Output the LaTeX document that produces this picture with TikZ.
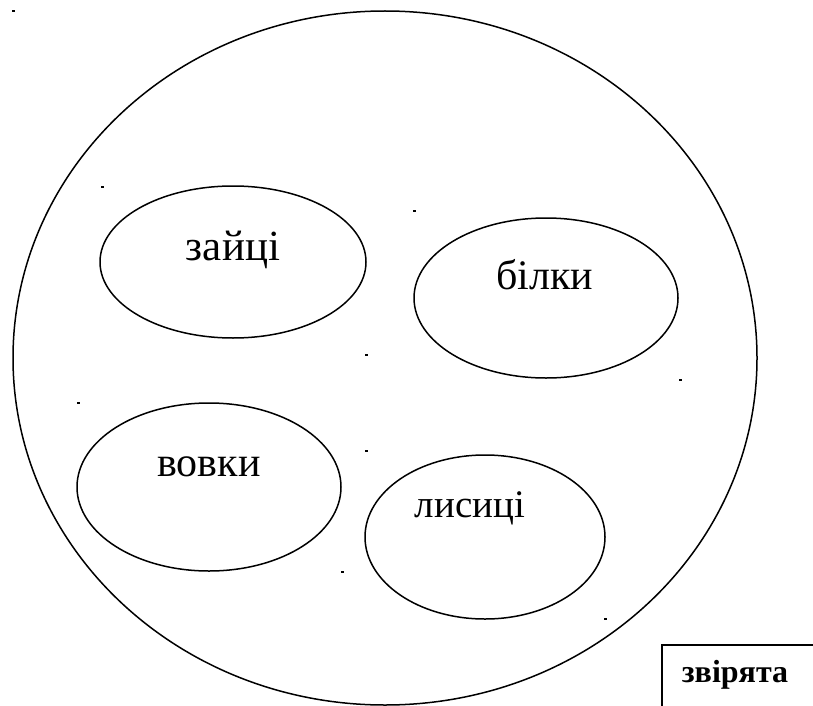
\documentclass[tikz,border=0pt]{standalone}
\usepackage{fontspec}
\setmainfont{Liberation Serif}
\usetikzlibrary{shapes.geometric}

\tikzset{
    group/.style={ellipse, draw, line width=1.5pt, inner sep=0pt},
    word/.style={font=\fontsize{42}{50}\selectfont, inner sep=0pt},
}

\begin{document}
\begin{tikzpicture}[x=1pt, y=-1pt]
    \useasboundingbox (0,0) rectangle (813,706);
    % the whole set
    \node[group, minimum width=744pt, minimum height=694pt] (all) at (385,358) {};
    % the four subsets
    \foreach \n/\x/\y/\w/\h in {zaitsi/233/262/266/152, bilky/546/298/264/160,
                                vovky/209/487/264/168, lysytsi/485/537/240/164} {
        \node[group, minimum width=\w pt, minimum height=\h pt] (\n) at (\x,\y) {};
    }
    \node[word, font=\fontsize{43}{50}\selectfont] (tzaitsi) at (233,250) {зайці};
    \node[word] (tbilky) at (545,275) {білки};
    \node[word] (tvovky) at (209,467) {вовки};
    \node[word, font=\fontsize{39}{46}\selectfont] (tlysytsi) at (470,508) {лисиці};
    % label box
    \draw[line width=1.5pt] (662,708) -- (662,645) -- (815,645);
    \node[font=\fontsize{32}{38}\selectfont\bfseries, inner sep=0pt] (tall) at (735,675) {звірята};
    % stray dots
    \foreach \x/\y in {13/11, 102/187, 414/211, 366/355, 680/380,
                       78/403, 366/451, 342/572, 605/619} {
        \fill (\x-1.5,\y-1) rectangle (\x+1.5,\y+1);
    }
\end{tikzpicture}
\end{document}
